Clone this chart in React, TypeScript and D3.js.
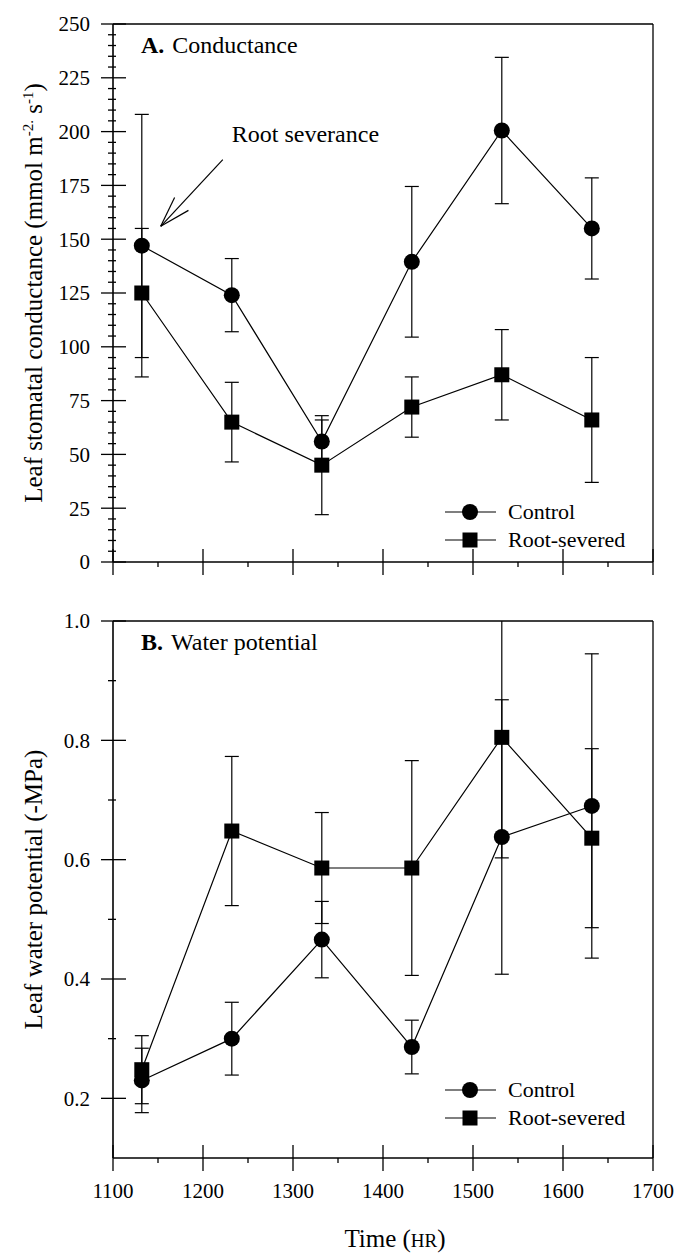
import React from "react";
import * as d3 from "d3";

// ---------- data ----------
const times = [1132, 1232, 1332, 1432, 1532, 1632];

const condControl = [147, 124, 56, 139.5, 200.5, 155];
const condControlErr = [61, 17, 10, 35, 34, 23.5];
const condSevered = [125, 65, 45, 72, 87, 66];
const condSeveredErr = [30, 18.5, 23, 14, 21, 29];

const wpControl = [0.23, 0.3, 0.466, 0.286, 0.638, 0.69];
const wpControlErr = [0.054, 0.061, 0.064, 0.045, 0.23, 0.255];
const wpSevered = [0.248, 0.648, 0.586, 0.586, 0.805, 0.636];
const wpSeveredErr = [0.057, 0.125, 0.093, 0.18, 0.202, 0.15];

const xTicks = [1100, 1200, 1300, 1400, 1500, 1600, 1700];
const xMinorTicks = [1150, 1250, 1350, 1450, 1550, 1650];
const condTicks = [0, 25, 50, 75, 100, 125, 150, 175, 200, 225, 250];
const wpTicks = [0.2, 0.4, 0.6, 0.8, 1.0];
const wpMinorTicks = [0.3, 0.5, 0.7, 0.9];

const seriesNames = ["Control", "Root-severed"];

// annotation (data coordinates)
const arrowTail = [1222, 187];
const arrowTip = [1153, 156];
const arrowLabel = { x: 1232, y: 195, text: "Root severance" };

// ---------- layout ----------
const FONT = "'Liberation Serif', 'Times New Roman', serif";
const X0 = 113;
const X1 = 653;

const x = d3.scaleLinear().domain([1100, 1700]).range([X0, X1]);

const yTop = d3.scaleLinear().domain([0, 250]).range([562, 24]);
const yBot = d3.scaleLinear().domain([0.1, 1.0]).range([1158, 621]);

type Panel = {
  y: d3.ScaleLinear<number, number>;
  major: number[];
  minor: number[];
  fmt: (v: number) => string;
  control: number[];
  controlErr: number[];
  severed: number[];
  severedErr: number[];
  title: [string, string];
  ylabel: React.ReactNode;
  legendY: number;
  showXLabels: boolean;
  id: string;
};

const condMinor = d3.range(5, 250, 5).filter((v) => v % 25 !== 0);

const panels: Panel[] = [
  {
    id: "a",
    y: yTop,
    major: condTicks,
    minor: condMinor,
    fmt: (v) => String(v),
    control: condControl,
    controlErr: condControlErr,
    severed: condSevered,
    severedErr: condSeveredErr,
    title: ["A.", "Conductance"],
    ylabel: (
      <>
        Leaf stomatal conductance (mmol m
        <tspan dy={-9} fontSize={15}>-2.</tspan>
        <tspan dy={9}> s</tspan>
        <tspan dy={-9} fontSize={15}>-1</tspan>
        <tspan dy={9}>)</tspan>
      </>
    ),
    legendY: 512,
    showXLabels: false,
  },
  {
    id: "b",
    y: yBot,
    major: wpTicks,
    minor: wpMinorTicks,
    fmt: (v) => v.toFixed(1),
    control: wpControl,
    controlErr: wpControlErr,
    severed: wpSevered,
    severedErr: wpSeveredErr,
    title: ["B.", "Water potential"],
    ylabel: <>Leaf water potential (-MPa)</>,
    legendY: 1090,
    showXLabels: true,
  },
];

function ErrorBars({ vals, errs, y }: { vals: number[]; errs: number[]; y: d3.ScaleLinear<number, number> }) {
  return (
    <g stroke="#000" strokeWidth={1.2}>
      {times.map((t, i) => {
        const cx = x(t);
        const hi = y(vals[i] + errs[i]);
        const lo = y(vals[i] - errs[i]);
        return (
          <g key={i}>
            <line x1={cx} x2={cx} y1={hi} y2={lo} />
            <line x1={cx - 7} x2={cx + 7} y1={hi} y2={hi} />
            <line x1={cx - 7} x2={cx + 7} y1={lo} y2={lo} />
          </g>
        );
      })}
    </g>
  );
}

function PanelView({ p }: { p: Panel }) {
  const y = p.y;
  const [yMin, yMax] = y.domain();
  const top = y(yMax);
  const bottom = y(yMin);
  const line = d3
    .line<number>()
    .x((_, i) => x(times[i]))
    .y((v) => y(v));
  const yMid = (top + bottom) / 2;
  const clipId = `clip-${p.id}`;
  return (
    <g>
      <defs>
        <clipPath id={clipId}>
          <rect x={X0} y={top} width={X1 - X0} height={bottom - top} />
        </clipPath>
      </defs>
      {/* frame */}
      <g stroke="#000" fill="none">
        <line x1={X0} x2={X1} y1={top} y2={top} strokeWidth={1.3} />
        <line x1={X1} x2={X1} y1={top} y2={bottom} strokeWidth={1.3} />
        <line x1={X0} x2={X0} y1={top} y2={bottom} strokeWidth={1.6} />
        <line x1={X0} x2={X1} y1={bottom} y2={bottom} strokeWidth={1.6} />
      </g>
      {/* y ticks */}
      <g stroke="#000" strokeWidth={1.3}>
        {p.major.map((v) => (
          <line key={"M" + v} x1={X0 - 12} x2={X0 + 13} y1={y(v)} y2={y(v)} />
        ))}
        {p.minor.map((v) => (
          <line key={"m" + v} x1={X0 - 5} x2={X0 + 3} y1={y(v)} y2={y(v)} />
        ))}
      </g>
      <g fontFamily={FONT} fontSize={21} textAnchor="end">
        {p.major.map((v) => (
          <text key={v} x={X0 - 23} y={y(v)} dy="0.35em">
            {p.fmt(v)}
          </text>
        ))}
      </g>
      {/* x ticks */}
      <g stroke="#000" strokeWidth={1.3}>
        {xTicks.map((t) => (
          <line key={"X" + t} x1={x(t)} x2={x(t)} y1={bottom - 13} y2={bottom + 13} />
        ))}
        {xMinorTicks.map((t) => (
          <line key={"x" + t} x1={x(t)} x2={x(t)} y1={bottom} y2={bottom + 5} />
        ))}
      </g>
      {p.showXLabels && (
        <g fontFamily={FONT} fontSize={21} textAnchor="middle">
          {xTicks.map((t) => (
            <text key={t} x={x(t)} y={bottom + 40}>
              {t}
            </text>
          ))}
        </g>
      )}
      {/* y label */}
      <text
        transform={`translate(42, ${yMid}) rotate(-90)`}
        textAnchor="middle"
        fontFamily={FONT}
        fontSize={25}
      >
        {p.ylabel}
      </text>
      {/* title */}
      <text x={X0 + 28} y={top + 29} fontFamily={FONT} fontSize={24}>
        <tspan fontWeight="bold">{p.title[0]}</tspan>
        <tspan dx={8}>{p.title[1]}</tspan>
      </text>
      {/* data */}
      <g clipPath={`url(#${clipId})`}>
        <ErrorBars vals={p.control} errs={p.controlErr} y={y} />
        <ErrorBars vals={p.severed} errs={p.severedErr} y={y} />
        <path d={line(p.control) || ""} fill="none" stroke="#000" strokeWidth={1.2} />
        <path d={line(p.severed) || ""} fill="none" stroke="#000" strokeWidth={1.2} />
        {p.control.map((v, i) => (
          <circle key={"c" + i} cx={x(times[i])} cy={y(v)} r={8} fill="#000" />
        ))}
        {p.severed.map((v, i) => (
          <rect key={"s" + i} x={x(times[i]) - 7.5} y={y(v) - 7.5} width={15} height={15} fill="#000" />
        ))}
      </g>
      {/* legend */}
      <g>
        {seriesNames.map((name, i) => {
          const ly = p.legendY + i * 28;
          return (
            <g key={name}>
              <line x1={445} x2={496} y1={ly} y2={ly} stroke="#000" strokeWidth={1.2} />
              {i === 0 ? (
                <circle cx={470} cy={ly} r={8} fill="#000" />
              ) : (
                <rect x={462.5} y={ly - 7.5} width={15} height={15} fill="#000" />
              )}
              <text x={508} y={ly} dy="0.33em" fontFamily={FONT} fontSize={22}>
                {name}
              </text>
            </g>
          );
        })}
      </g>
    </g>
  );
}

export default function App() {
  const tip = [x(arrowTip[0]), yTop(arrowTip[1])];
  const tail = [x(arrowTail[0]), yTop(arrowTail[1])];
  const ang = Math.atan2(tail[1] - tip[1], tail[0] - tip[0]);
  const headLen = 32;
  const spread = 0.3;
  const h1 = [tip[0] + headLen * Math.cos(ang - spread), tip[1] + headLen * Math.sin(ang - spread)];
  const h2 = [tip[0] + headLen * Math.cos(ang + spread), tip[1] + headLen * Math.sin(ang + spread)];
  return (
    <svg
      width={675}
      height={1254}
      style={{ position: "absolute", left: 0, top: 0, background: "#fff" }}
    >
      <rect width={675} height={1254} fill="#fff" />
      {panels.map((p) => (
        <PanelView key={p.id} p={p} />
      ))}
      {/* annotation */}
      <g stroke="#000" strokeWidth={1.2} fill="none">
        <line x1={tail[0]} y1={tail[1]} x2={tip[0]} y2={tip[1]} />
        <line x1={tip[0]} y1={tip[1]} x2={h1[0]} y2={h1[1]} />
        <line x1={tip[0]} y1={tip[1]} x2={h2[0]} y2={h2[1]} />
      </g>
      <text x={x(arrowLabel.x)} y={yTop(arrowLabel.y)} fontFamily={FONT} fontSize={24}>
        {arrowLabel.text}
      </text>
      {/* x axis title */}
      <text x={395} y={1247} textAnchor="middle" fontFamily={FONT} fontSize={25}>
        Time (<tspan fontSize={19}>HR</tspan>)
      </text>
    </svg>
  );
}
